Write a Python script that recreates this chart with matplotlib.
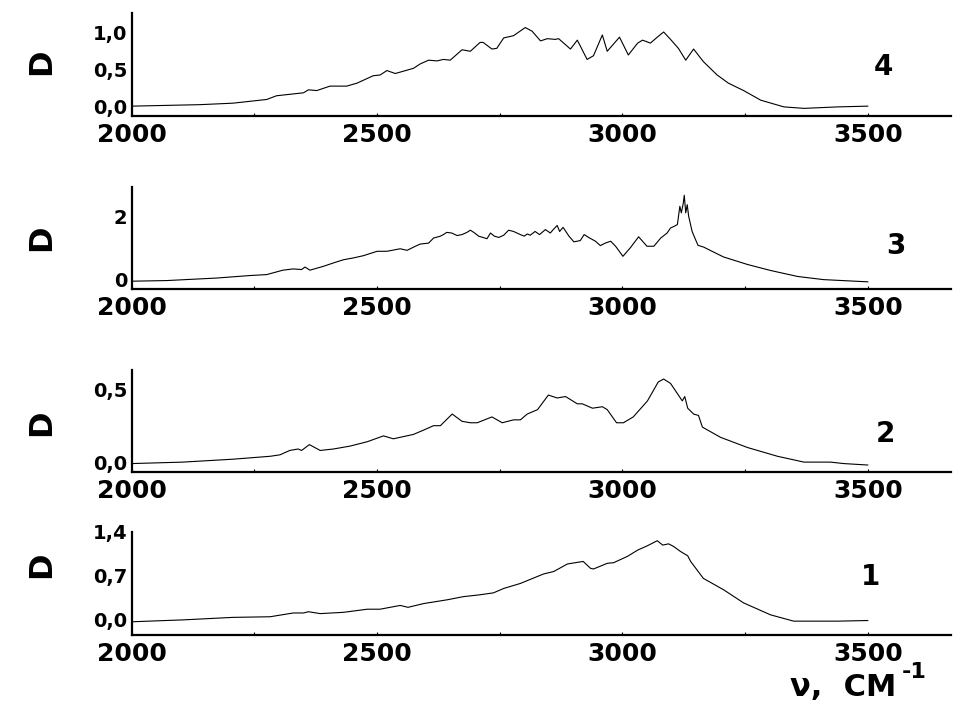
import matplotlib.pyplot as plt
from matplotlib.ticker import MultipleLocator

# spectrum 4 (top panel)
wn4 = [2000, 2139, 2206, 2275, 2295, 2350, 2360, 2377, 2404, 2438, 2459, 2492, 2506, 2520,
       2537, 2574, 2588, 2605, 2622, 2635, 2649, 2673, 2690, 2710, 2716, 2734, 2744, 2758,
       2778, 2802, 2816, 2833, 2847, 2863, 2870, 2894, 2908, 2928, 2941, 2959, 2969, 2994,
       3012, 3031, 3041, 3057, 3071, 3084, 3098, 3114, 3129, 3145, 3165, 3193, 3216, 3247,
       3282, 3329, 3370, 3439, 3500]
d4 = [0.01, 0.03, 0.05, 0.10, 0.15, 0.19, 0.23, 0.22, 0.28, 0.28, 0.32, 0.42, 0.43, 0.49,
      0.45, 0.52, 0.58, 0.63, 0.62, 0.64, 0.63, 0.77, 0.75, 0.87, 0.87, 0.78, 0.79, 0.93,
      0.96, 1.07, 1.02, 0.89, 0.92, 0.91, 0.92, 0.78, 0.90, 0.64, 0.69, 0.97, 0.75, 0.94,
      0.70, 0.86, 0.90, 0.86, 0.94, 1.01, 0.91, 0.79, 0.63, 0.78, 0.61, 0.43, 0.32, 0.22,
      0.09, 0.00, -0.02, 0.00, 0.01]

# spectrum 3
wn3 = [2000, 2071, 2173, 2241, 2275, 2308, 2329, 2346, 2353, 2363, 2390, 2411, 2431, 2452,
       2472, 2500, 2520, 2547, 2561, 2578, 2588, 2605, 2615, 2629, 2635, 2642, 2652, 2663,
       2673, 2683, 2690, 2697, 2707, 2724, 2731, 2739, 2748, 2758, 2768, 2778, 2792, 2800,
       2806, 2812, 2822, 2831, 2843, 2853, 2859, 2867, 2872, 2879, 2891, 2901, 2914, 2922,
       2931, 2945, 2955, 2965, 2976, 2986, 3001, 3016, 3033, 3050, 3064, 3078, 3091, 3098,
       3105, 3112, 3117, 3120, 3124, 3126, 3129, 3132, 3135, 3142, 3149, 3154, 3166, 3180,
       3206, 3255, 3302, 3357, 3410, 3500]
d3 = [-0.05, -0.03, 0.05, 0.13, 0.16, 0.30, 0.34, 0.32, 0.40, 0.30, 0.42, 0.53, 0.63, 0.69,
      0.76, 0.90, 0.90, 0.98, 0.93, 1.06, 1.13, 1.16, 1.32, 1.38, 1.43, 1.50, 1.48, 1.40,
      1.43, 1.50, 1.57, 1.50, 1.38, 1.30, 1.48, 1.38, 1.34, 1.41, 1.57, 1.53, 1.43, 1.38,
      1.45, 1.41, 1.53, 1.43, 1.59, 1.48, 1.59, 1.72, 1.53, 1.66, 1.38, 1.20, 1.24, 1.43,
      1.34, 1.22, 1.08, 1.16, 1.22, 1.06, 0.74, 1.01, 1.36, 1.06, 1.06, 1.32, 1.48, 1.64,
      1.69, 1.75, 2.33, 2.12, 2.43, 2.68, 2.12, 2.38, 2.01, 1.53, 1.27, 1.09, 1.03, 0.92,
      0.72, 0.48, 0.29, 0.10, 0.00, -0.07]

# spectrum 2
wn2 = [2000, 2104, 2206, 2282, 2302, 2322, 2339, 2346, 2362, 2384, 2411, 2445, 2480, 2513,
       2533, 2574, 2595, 2615, 2629, 2653, 2673, 2690, 2704, 2734, 2755, 2778, 2792, 2806,
       2827, 2849, 2867, 2884, 2908, 2918, 2939, 2959, 2969, 2988, 3002, 3022, 3051, 3073,
       3084, 3098, 3122, 3127, 3133, 3145, 3155, 3163, 3200, 3255, 3316, 3370, 3424, 3451,
       3500]
d2 = [-0.01, 0.00, 0.02, 0.04, 0.05, 0.08, 0.09, 0.08, 0.12, 0.08, 0.09, 0.11, 0.14, 0.18,
      0.16, 0.19, 0.22, 0.25, 0.25, 0.33, 0.28, 0.27, 0.27, 0.31, 0.27, 0.29, 0.29, 0.33,
      0.36, 0.46, 0.44, 0.45, 0.40, 0.40, 0.37, 0.38, 0.36, 0.27, 0.27, 0.31, 0.42, 0.55,
      0.57, 0.54, 0.42, 0.45, 0.37, 0.33, 0.32, 0.24, 0.17, 0.10, 0.04, 0.00, 0.00, -0.01,
      -0.02]

# spectrum 1 (bottom panel)
wn1 = [2000, 2104, 2206, 2282, 2329, 2350, 2360, 2384, 2431, 2480, 2506, 2547, 2563, 2595,
       2643, 2676, 2710, 2737, 2758, 2792, 2839, 2860, 2888, 2920, 2935, 2941, 2969, 2982,
       3010, 3031, 3051, 3071, 3082, 3094, 3104, 3118, 3133, 3139, 3165, 3206, 3247, 3302,
       3349, 3439, 3500]
d1 = [-0.03, 0.00, 0.04, 0.05, 0.11, 0.11, 0.13, 0.10, 0.12, 0.17, 0.17, 0.23, 0.20, 0.26,
      0.32, 0.37, 0.40, 0.43, 0.50, 0.58, 0.73, 0.77, 0.89, 0.93, 0.82, 0.81, 0.90, 0.91,
      1.01, 1.11, 1.18, 1.26, 1.19, 1.21, 1.17, 1.09, 1.02, 0.93, 0.66, 0.48, 0.27, 0.08,
      -0.02, -0.02, -0.01]

panels = [
    # (wn, d, rect, ylim, yticks, yticklabels, number, number pos, D pos)
    (wn4, d4, [0.138, 0.836, 0.858, 0.146], (-0.12, 1.27), [0.0, 0.5, 1.0], ['0,0', '0,5', '1,0'], '4', (0.925, 0.905), 0.913),
    (wn3, d3, [0.138, 0.591, 0.858, 0.1445], (-0.29, 2.95), [0, 2], ['0', '2'], '3', (0.938, 0.652), 0.663),
    (wn2, d2, [0.138, 0.331, 0.858, 0.1445], (-0.07, 0.63), [0.0, 0.5], ['0,0', '0,5'], '2', (0.927, 0.385), 0.401),
    (wn1, d1, [0.138, 0.1006, 0.858, 0.146], (-0.24, 1.40), [0.0, 0.7, 1.4], ['0,0', '0,7', '1,4'], '1', (0.912, 0.183), 0.200),
]

fig = plt.figure(figsize=(9.55, 7.06), dpi=100)
font = {'family': 'DejaVu Sans', 'weight': 'bold'}

for wn, d, rect, ylim, yt, ytl, num, numpos, dy in panels:
    ax = fig.add_axes(rect)
    ax.plot(wn, d, color='black', linewidth=0.8)
    ax.set_xlim(2000, 3670)
    ax.set_ylim(*ylim)
    for s in ['top', 'right']:
        ax.spines[s].set_visible(False)
    for s in ['left', 'bottom']:
        ax.spines[s].set_linewidth(1.6)
    ax.xaxis.set_major_locator(MultipleLocator(500))
    ax.xaxis.set_minor_locator(MultipleLocator(250))
    ax.tick_params(axis='x', which='both', direction='in', length=2, width=0.8, pad=5)
    ax.tick_params(axis='y', length=0, pad=3)
    ax.set_xticks([2000, 2500, 3000, 3500])
    ax.set_xticklabels(['2000', '2500', '3000', '3500'], fontdict={**font, 'size': 18})
    ax.set_yticks(yt)
    ax.set_yticklabels(ytl, fontdict={**font, 'size': 14})
    fig.text(numpos[0], numpos[1], num, ha='center', va='center', fontsize=20, **font)
    fig.text(0.044, dy, 'D', rotation=90, ha='center', va='center', fontsize=23, **font)

fig.text(0.939, 0.006, 'ν,  CM', ha='right', va='bottom', fontsize=22, **font)
fig.text(0.944, 0.034, '-1', ha='left', va='bottom', fontsize=16, **font)

fig.savefig('out.png', dpi=100)
